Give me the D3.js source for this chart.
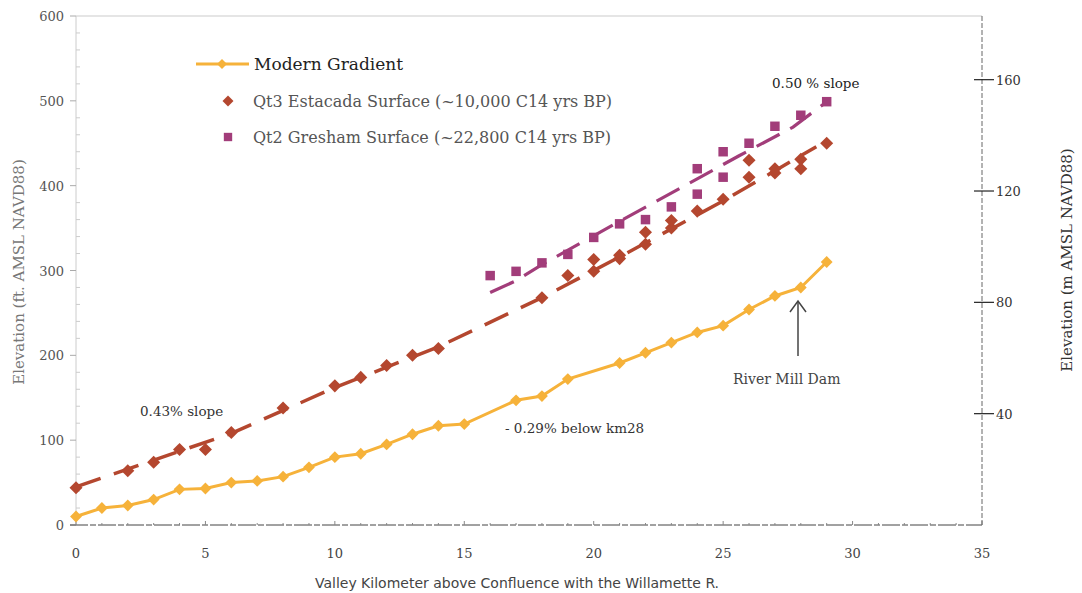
<!DOCTYPE html>
<html>
<head>
<meta charset="utf-8">
<script src="https://cdn.jsdelivr.net/npm/d3@7"></script>
<style>
  html, body { margin: 0; padding: 0; background: #fff; }
  svg { display: block; }
</style>
</head>
<body>
<svg id="chart" width="1082" height="593"></svg>
<script>
// Modern river gradient (km above confluence, elevation ft)
const modernKm = [0,1,2,3,4,5,6,7,8,9,10,11,12,13,14,15,17,18,19,21,22,23,24,25,26,27,28,29];
const modernFt = [10,20,23,30,42,43,50,52,57,68,80,84,95,107,117,119,147,152,172,191,203,215,227,235,254,270,280,310];

// Qt3 Estacada terrace surface
const estacadaKm = [0,2,3,4,5,6,8,10,11,12,13,14,18,19,20,20,21,21,22,22,23,23,24,25,26,26,27,27,28,28,29];
const estacadaFt = [44,64,74,89,89,109,138,164,174,188,200,208,268,294,299,313,314,318,331,345,350,359,370,384,410,430,415,420,420,431,450];

// Qt2 Gresham terrace surface
const greshamKm = [16,17,18,19,20,21,22,23,24,24,25,25,26,27,28,29];
const greshamFt = [294,299,309,319,339,355,360,375,390,420,410,440,450,470,483,499];

// Hand-fitted slope traces (km, ft)
const estacadaFitKm = [0, 6, 10, 14, 18, 21, 25, 28.6];
const estacadaFitFt = [45, 108, 162, 210, 268, 316, 382, 446];
const greshamFitKm = [16, 17, 18, 21, 23.4, 25.6, 27.7, 29];
const greshamFitFt = [274, 288, 307, 358, 398, 435, 469, 499];

// Axis ticks
const xTicks = [0,5,10,15,20,25,30,35];
const yTicksFt = [0,100,200,300,400,500,600];
const yTicksM = [40,80,120,160];

const svg = d3.select("#chart");
const x = d3.scaleLinear().domain([0, 35]).range([76, 982]);
const y = d3.scaleLinear().domain([0, 600]).range([525, 16]);
const yM = d3.scaleLinear().domain([0, 600 * 0.3048]).range([525, 16]);

const serif = "'DejaVu Serif', 'Liberation Serif', serif";
const cModern = "#f6b23a";
const cEst = "#b4472f";
const cGre = "#a23d7a";

// frame: top border and left axis line
svg.append("line").attr("x1", x(0)).attr("x2", x(35)).attr("y1", y(600)).attr("y2", y(600))
  .attr("stroke", "#ddd").attr("stroke-width", 1.5);

const gL = svg.append("g");
gL.append("line").attr("x1", x(0)).attr("x2", x(0)).attr("y1", y(0)).attr("y2", y(600))
  .attr("stroke", "#ccc").attr("stroke-width", 1);
d3.range(0, 601, 20).forEach(v => {
  const major = v % 100 === 0;
  gL.append("line").attr("x1", x(0) - (major ? 6 : 0)).attr("x2", x(0) + (major ? 0 : 4))
    .attr("y1", y(v)).attr("y2", y(v)).attr("stroke", major ? "#aaa" : "#ccc").attr("stroke-width", 1);
});
yTicksFt.forEach(v => {
  gL.append("text").attr("x", x(0) - 12).attr("y", y(v) + 5).attr("text-anchor", "end")
    .attr("font-family", serif).attr("font-size", 13).attr("fill", "#555").text(v);
});

// bottom axis
const gB = svg.append("g");
gB.append("line").attr("x1", 70).attr("x2", x(35)).attr("y1", y(0)).attr("y2", y(0))
  .attr("stroke", "#444").attr("stroke-width", 1).attr("stroke-dasharray", "18,2,6,2");
d3.range(0, 36, 1).forEach(v => {
  gB.append("line").attr("x1", x(v)).attr("x2", x(v)).attr("y1", y(0)).attr("y2", y(0) - (v % 5 === 0 ? 4 : 2))
    .attr("stroke", "#888").attr("stroke-width", 1);
});
xTicks.forEach(v => {
  gB.append("text").attr("x", x(v)).attr("y", 558).attr("text-anchor", "middle")
    .attr("font-family", serif).attr("font-size", 13).attr("fill", "#444").text(v);
});
svg.append("text").attr("x", 517).attr("y", 588).attr("text-anchor", "middle")
  .attr("font-family", "'DejaVu Sans', sans-serif").attr("font-size", 14).attr("fill", "#444")
  .text("Valley Kilometer above Confluence with the Willamette R.");

// right axis in metres
const gR = svg.append("g");
gR.append("line").attr("x1", x(35)).attr("x2", x(35)).attr("y1", y(0)).attr("y2", y(600))
  .attr("stroke", "#666").attr("stroke-width", 1).attr("stroke-dasharray", "5,2");
yTicksM.forEach(v => {
  gR.append("line").attr("x1", x(35) - 8).attr("x2", x(35) + 12).attr("y1", yM(v)).attr("y2", yM(v))
    .attr("stroke", "#222").attr("stroke-width", 1.2);
  gR.append("text").attr("x", x(35) + 14).attr("y", yM(v) + 5)
    .attr("font-family", serif).attr("font-size", 13).attr("fill", "#333").text(v);
});

// axis titles
svg.append("text").attr("transform", "translate(24,272) rotate(-90)").attr("text-anchor", "middle")
  .attr("font-family", serif).attr("font-size", 15).attr("fill", "#777")
  .text("Elevation (ft. AMSL NAVD88)");
svg.append("text").attr("transform", "translate(1072,260) rotate(-90)").attr("text-anchor", "middle")
  .attr("font-family", serif).attr("font-size", 15).attr("fill", "#333")
  .text("Elevation (m AMSL NAVD88)");

// fitted slope traces
const trace = d3.line().x(d => x(d[0])).y(d => y(d[1]));
svg.append("path").attr("d", trace(d3.zip(estacadaFitKm, estacadaFitFt)))
  .attr("fill", "none").attr("stroke", cEst).attr("stroke-width", 3.5).attr("stroke-dasharray", "26,14");
svg.append("path").attr("d", trace(d3.zip(greshamFitKm, greshamFitFt)))
  .attr("fill", "none").attr("stroke", cGre).attr("stroke-width", 3.2).attr("stroke-dasharray", "26,12");

// modern gradient line with diamond markers
const modern = d3.zip(modernKm, modernFt);
svg.append("path").attr("d", trace(modern)).attr("fill", "none")
  .attr("stroke", cModern).attr("stroke-width", 3);
svg.append("g").selectAll("path").data(modern).join("path")
  .attr("transform", d => `translate(${x(d[0])},${y(d[1])}) rotate(45)`)
  .attr("d", d3.symbol().type(d3.symbolSquare).size(70)).attr("fill", cModern);

// Estacada diamonds
svg.append("g").selectAll("path").data(d3.zip(estacadaKm, estacadaFt)).join("path")
  .attr("transform", d => `translate(${x(d[0])},${y(d[1])}) rotate(45)`)
  .attr("d", d3.symbol().type(d3.symbolSquare).size(85)).attr("fill", cEst);

// Gresham squares
svg.append("g").selectAll("path").data(d3.zip(greshamKm, greshamFt)).join("path")
  .attr("transform", d => `translate(${x(d[0])},${y(d[1])})`)
  .attr("d", d3.symbol().type(d3.symbolSquare).size(90)).attr("fill", cGre);

// annotations
const note = (tx, ty, s, size, col) => svg.append("text").attr("x", tx).attr("y", ty)
  .attr("font-family", serif).attr("font-size", size).attr("fill", col).text(s);
note(140, 416, "0.43% slope", 13.5, "#333");
note(505, 433, "- 0.29% below km28", 13.5, "#333");
note(772, 88, "0.50 % slope", 13.5, "#222");
note(733, 384, "River Mill Dam", 14, "#444");

// dam arrow
svg.append("line").attr("x1", 798).attr("x2", 798).attr("y1", 356).attr("y2", 302)
  .attr("stroke", "#444").attr("stroke-width", 1.5);
svg.append("path").attr("d", "M790,312 L798,301 L806,312").attr("fill", "none")
  .attr("stroke", "#444").attr("stroke-width", 1.5);

// legend
const lg = svg.append("g");
lg.append("line").attr("x1", 196).attr("x2", 249).attr("y1", 64).attr("y2", 64)
  .attr("stroke", cModern).attr("stroke-width", 3);
lg.append("path").attr("transform", "translate(222,64) rotate(45)")
  .attr("d", d3.symbol().type(d3.symbolSquare).size(50)).attr("fill", cModern);
lg.append("text").attr("x", 254).attr("y", 70).attr("font-family", serif).attr("font-size", 17)
  .attr("fill", "#222").text("Modern Gradient");
lg.append("path").attr("transform", "translate(228,101) rotate(45)")
  .attr("d", d3.symbol().type(d3.symbolSquare).size(60)).attr("fill", cEst);
lg.append("text").attr("x", 253).attr("y", 107).attr("font-family", serif).attr("font-size", 16)
  .attr("fill", "#555").text("Qt3 Estacada Surface (~10,000 C14 yrs BP)");
lg.append("path").attr("transform", "translate(228,137)")
  .attr("d", d3.symbol().type(d3.symbolSquare).size(70)).attr("fill", cGre);
lg.append("text").attr("x", 253).attr("y", 143).attr("font-family", serif).attr("font-size", 16)
  .attr("fill", "#555").text("Qt2 Gresham Surface (~22,800 C14 yrs BP)");
</script>
</body>
</html>
